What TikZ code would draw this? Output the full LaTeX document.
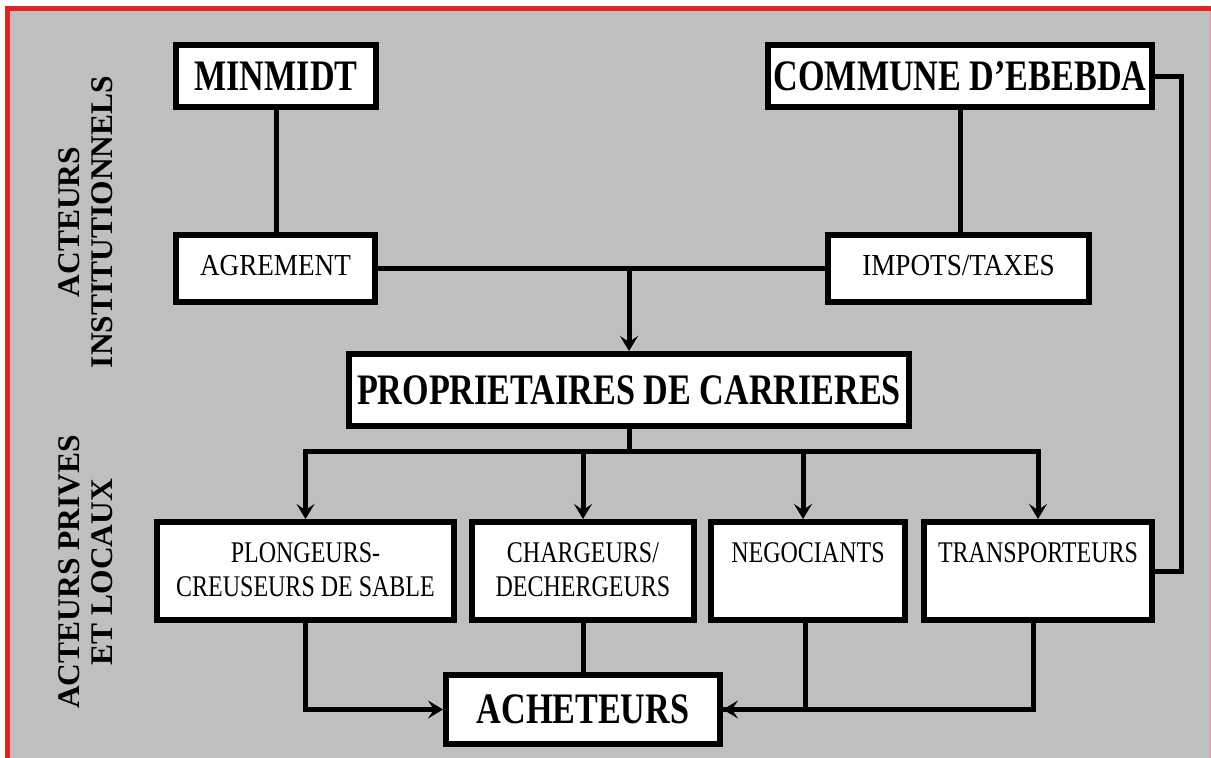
\documentclass[tikz,border=0pt]{standalone}
\usepackage{fontspec}
\setmainfont{Liberation Serif}
\newfontfamily\titlefont[FakeStretch=0.785]{Liberation Serif}
\newfontfamily\upfont[FakeStretch=0.89]{Liberation Serif}
\newfontfamily\lowfont[FakeStretch=0.80]{Liberation Serif}
\usetikzlibrary{arrows.meta}
\definecolor{bggray}{RGB}{191,191,191}
\definecolor{framered}{RGB}{228,34,36}
\newcommand{\lowtext}[2]{\parbox[c][98pt][t]{#1}{\centering\rule{0pt}{40pt}#2}}
\begin{document}
\begin{tikzpicture}[x=1pt,y=-1pt,
 box/.style={draw=black,fill=white,line width=6pt,inner sep=0pt},
 titlebox/.style={box,font=\titlefont\bfseries\fontsize{43.5}{46}\selectfont},
 upbox/.style={box,font=\upfont\fontsize{30.5}{34}\selectfont,text height=20pt,text depth=7pt,minimum height=67pt},
 lowbox/.style={box,font=\lowfont\fontsize{30}{34.5}\selectfont,minimum height=98pt},
 side/.style={font=\bfseries\fontsize{31.5}{33}\selectfont,align=center,rotate=90},
 conn/.style={line width=5pt},
 arr/.style={conn,-{Stealth[length=15pt,width=18pt,inset=6pt]}},
]
\useasboundingbox (0,0) rectangle (1211,758);
\fill[bggray] (10,11) rectangle (1211,758);
\draw[framered,line width=5pt] (7.5,758) -- (7.5,8.5) -- (1211,8.5);
\draw[framered!50,line width=1pt] (1210.5,11) -- (1210.5,758);

% side labels
\node[side] (s1) at (86,222) {ACTEURS\\INSTITUTIONNELS};
\node[side] (s2) at (86,572) {ACTEURS PRIVES\\ET LOCAUX};

% boxes
\node[titlebox,minimum width=200pt,minimum height=62pt] (min) at (276,76) {MINMIDT\hspace{18pt}};
\node[titlebox,minimum width=384pt,minimum height=62pt] (com) at (960,76) {COMMUNE D’EBEBDA};
\node[upbox,minimum width=199.5pt] (agr) at (275.5,268.5) {AGREMENT};
\node[upbox,minimum width=261pt] (imp) at (958.5,268.5) {IMPOTS/TAXES};
\node[titlebox,minimum width=560.5pt,minimum height=72pt] (prop) at (629,390) {PROPRIETAIRES DE CARRIERES};
\node[lowbox,minimum width=297pt] (plo) at (305.5,571) {\lowtext{297pt}{PLONGEURS-\\CREUSEURS DE SABLE}};
\node[lowbox,minimum width=222pt] (cha) at (583,571) {\lowtext{222pt}{CHARGEURS/\\DECHERGEURS}};
\node[lowbox,minimum width=194pt] (neg) at (808,571) {\lowtext{194pt}{NEGOCIANTS\hspace{8pt}}};
\node[lowbox,minimum width=228pt] (tra) at (1038,571) {\lowtext{228pt}{TRANSPORTEURS}};
\node[titlebox,minimum width=274pt,minimum height=69pt] (ach) at (583,709.5) {ACHETEURS};

% connectors
\draw[conn] (min.south) -- (min.south |- agr.north);
\draw[conn] (com.south) -- (com.south |- imp.north);
\draw[conn] (agr.east) -- (imp.west);
\coordinate (j1) at (prop.north |- agr.east);
\draw[arr] (j1) -- (prop.north);
\coordinate (j2) at (629,451);
\draw[conn] (prop.south) -- (j2);
\draw[arr] (j2) -| (plo.north);
\draw[arr] (j2) -| (cha.north);
\draw[arr] (j2) -| ([xshift=-5pt]neg.north);
\draw[arr] (j2) -| (tra.north);
\draw[conn] (com.east) -- ++(26,0) |- (tra.east);
\draw[arr] (plo.south) |- (ach.west);
\draw[conn] (cha.south) -- (ach.north);
\draw[conn] ([xshift=-3pt]neg.south) |- (ach.east);
\draw[arr] ([xshift=-5pt]tra.south) |- (ach.east);
\end{tikzpicture}
\end{document}
